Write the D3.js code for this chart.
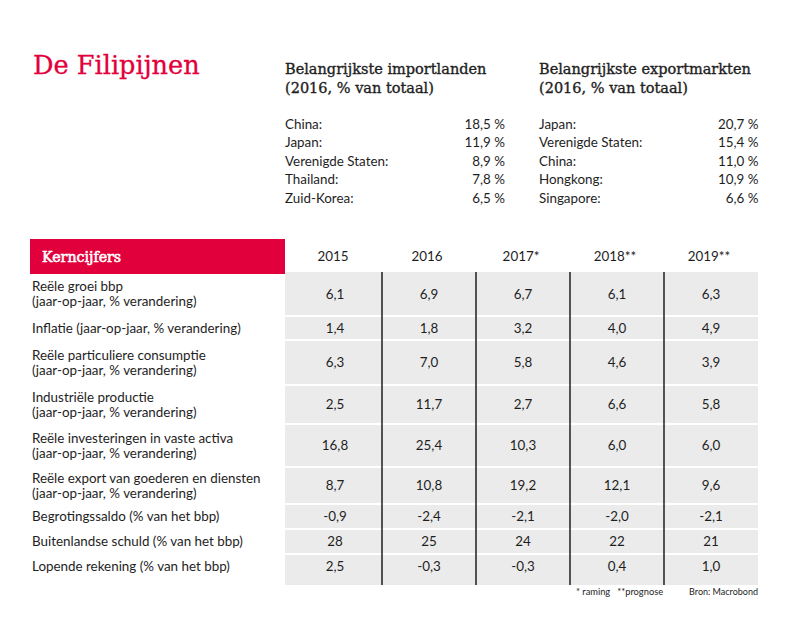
<!DOCTYPE html>
<html><head><meta charset="utf-8">
<script src="https://cdn.jsdelivr.net/npm/d3@7"></script>
<style>
html,body{margin:0;padding:0;background:#fff;}
svg{display:block;}
</style></head>
<body>
<script>
// ---------- DATA ----------
const title = "De Filipijnen";
const importTitle = ["Belangrijkste importlanden", "(2016, % van totaal)"];
const importCountries = ["China:", "Japan:", "Verenigde Staten:", "Thailand:", "Zuid-Korea:"];
const importShares = [18.5, 11.9, 8.9, 7.8, 6.5];
const exportTitle = ["Belangrijkste exportmarkten", "(2016, % van totaal)"];
const exportCountries = ["Japan:", "Verenigde Staten:", "China:", "Hongkong:", "Singapore:"];
const exportShares = [20.7, 15.4, 11.0, 10.9, 6.6];

const tableTitle = "Kerncijfers";
const years = ["2015", "2016", "2017*", "2018**", "2019**"];
const indicators = [
  ["Reële groei bbp", "(jaar-op-jaar, % verandering)"],
  ["Inflatie (jaar-op-jaar, % verandering)"],
  ["Reële particuliere consumptie", "(jaar-op-jaar, % verandering)"],
  ["Industriële productie", "(jaar-op-jaar, % verandering)"],
  ["Reële investeringen in vaste activa", "(jaar-op-jaar, % verandering)"],
  ["Reële export van goederen en diensten", "(jaar-op-jaar, % verandering)"],
  ["Begrotingssaldo (% van het bbp)"],
  ["Buitenlandse schuld (% van het bbp)"],
  ["Lopende rekening (% van het bbp)"]
];
const gdpGrowth      = [6.1, 6.9, 6.7, 6.1, 6.3];
const inflation      = [1.4, 1.8, 3.2, 4.0, 4.9];
const consumption    = [6.3, 7.0, 5.8, 4.6, 3.9];
const industrial     = [2.5, 11.7, 2.7, 6.6, 5.8];
const investment     = [16.8, 25.4, 10.3, 6.0, 6.0];
const exportsGrowth  = [8.7, 10.8, 19.2, 12.1, 9.6];
const budgetBalance  = [-0.9, -2.4, -2.1, -2.0, -2.1];
const externalDebt   = [28, 25, 24, 22, 21];
const currentAccount = [2.5, -0.3, -0.3, 0.4, 1.0];
const decimals = [1, 1, 1, 1, 1, 1, 1, 0, 1];
const footnote = "* raming   **prognose";
const source = "Bron: Macrobond";

// ---------- LAYOUT ----------
const W = 799, H = 619;
const red = "#E2003C", grey = "#EBEBEB", ink = "#1e1e1e";
const serif = "'DejaVu Serif', serif";
const sans = "Lato, 'Open Sans', sans-serif";
const fs = 13.4;
const rowHeights = [44, 24, 45, 39, 43, 37, 25, 25, 25];
const tableTop = 272, bottomPad = 6;

const svg = d3.select("body").append("svg").attr("width", W).attr("height", H);

const fmt = (v, d) => v.toFixed(d).replace(".", ",");

// Title
svg.append("text").attr("x", 33).attr("y", 74)
  .attr("font-family", serif).attr("font-size", 25.6).attr("fill", red)
  .attr("stroke", red).attr("stroke-width", 0.3)
  .text(title);

// Trade lists
function tradeBlock(x0, x1, heading, names, values) {
  const g = svg.append("g");
  heading.forEach((t, i) => g.append("text")
    .attr("x", x0).attr("y", 73.5 + i * 19.5)
    .attr("font-family", serif).attr("font-size", 14.5)
    .attr("fill", ink).attr("stroke", ink).attr("stroke-width", 0.35).text(t));
  const y = d3.scaleLinear().domain([0, names.length - 1]).range([129, 202.5]);
  names.forEach((n, i) => {
    g.append("text").attr("x", x0).attr("y", y(i))
      .attr("font-family", sans).attr("font-size", fs).attr("fill", ink).text(n);
    g.append("text").attr("x", x1).attr("y", y(i)).attr("text-anchor", "end")
      .attr("font-family", sans).attr("font-size", fs).attr("fill", ink)
      .text(fmt(values[i], 1) + " %");
  });
}
tradeBlock(285, 505, importTitle, importCountries, importShares);
tradeBlock(539, 758.5, exportTitle, exportCountries, exportShares);

// Table
const x = d3.scaleBand().domain(years).range([288, 758]).paddingInner(0).paddingOuter(0);
const rowTops = [tableTop, ...d3.cumsum(rowHeights).map(c => tableTop + c)];
const tableBottom = rowTops[rowTops.length - 1] + bottomPad;

// red header bar
svg.append("rect").attr("x", 30).attr("y", 239).attr("width", 255).attr("height", 35).attr("fill", red);
svg.append("text").attr("x", 42).attr("y", 262)
  .attr("font-family", serif).attr("font-size", 14.2)
  .attr("fill", "#fff").attr("stroke", "#fff").attr("stroke-width", 0.6).text(tableTitle);

// year headers
svg.selectAll("text.year").data(years).join("text").attr("class", "year")
  .attr("x", d => x(d) + x.bandwidth() / 2 - 2).attr("y", 261)
  .attr("text-anchor", "middle").attr("font-family", sans).attr("font-size", fs)
  .attr("fill", ink).text(d => d);

// grey background
svg.append("rect").attr("x", 285).attr("y", tableTop)
  .attr("width", x.range()[1] - 285).attr("height", tableBottom - tableTop).attr("fill", grey);

// white row separators
svg.selectAll("line.rowsep").data(rowTops.slice(1, -1)).join("line").attr("class", "rowsep")
  .attr("x1", 285).attr("x2", x.range()[1]).attr("y1", d => d).attr("y2", d => d)
  .attr("stroke", "#fff").attr("stroke-width", 2);

// column separators
svg.selectAll("line.colsep").data(years.slice(1)).join("line").attr("class", "colsep")
  .attr("x1", d => x(d)).attr("x2", d => x(d)).attr("y1", tableTop).attr("y2", tableBottom)
  .attr("stroke", "#111").attr("stroke-width", 1.4);

const series = [gdpGrowth, inflation, consumption, industrial, investment, exportsGrowth, budgetBalance, externalDebt, currentAccount];

indicators.forEach((lines, r) => {
  const base = rowTops[r] + rowHeights[r] / 2 + 4.5;
  const n = lines.length;
  lines.forEach((t, i) => {
    svg.append("text").attr("x", 32).attr("y", base + (i - (n - 1) / 2) * 15)
      .attr("font-family", sans).attr("font-size", fs).attr("fill", ink).text(t);
  });
  series[r].forEach((v, c) => {
    svg.append("text").attr("x", x(years[c]) + x.bandwidth() / 2).attr("y", base)
      .attr("text-anchor", "middle").attr("font-family", sans).attr("font-size", fs)
      .attr("fill", ink).text(fmt(v, decimals[r]));
  });
});

// footnotes
svg.append("text").attr("x", 576).attr("y", 595).attr("font-family", sans).attr("font-size", 9.3)
  .attr("fill", ink).style("white-space", "pre").text(footnote);
svg.append("text").attr("x", 758).attr("y", 595).attr("text-anchor", "end").attr("font-family", sans)
  .attr("font-size", 9).attr("fill", ink).text(source);
</script>
</body></html>
